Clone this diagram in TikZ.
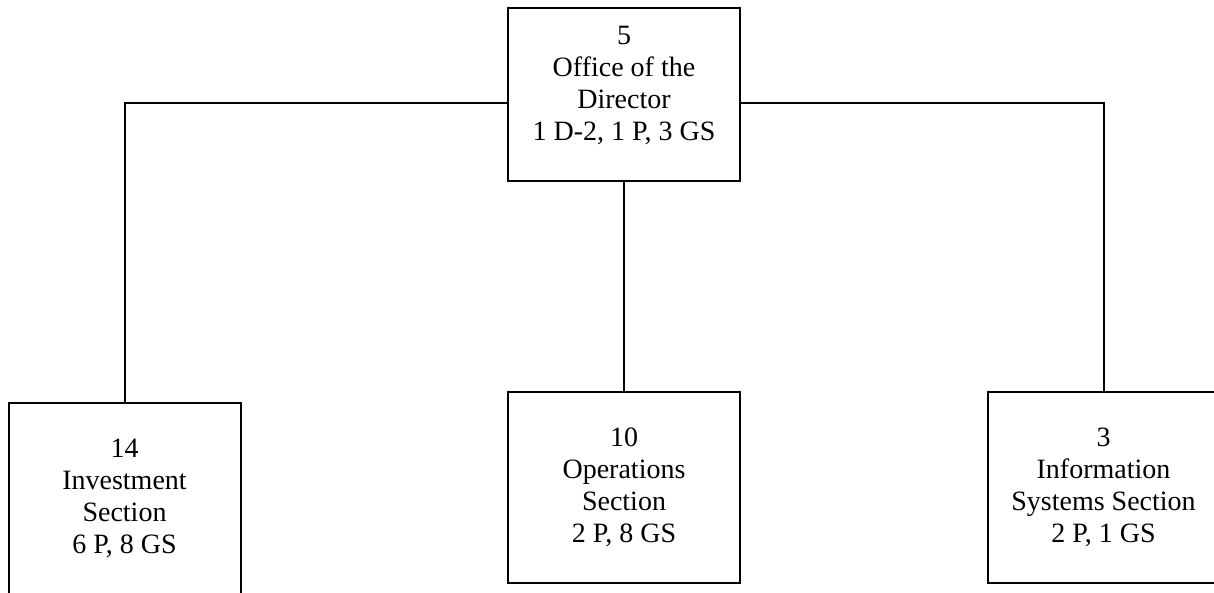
\documentclass[tikz,border=0pt]{standalone}
\usepackage{fontspec}
\setmainfont{Liberation Serif}
\begin{document}
\begin{tikzpicture}[x=0.5pt, y=-0.5pt,
    unitbox/.style={draw, line width=1pt, minimum width=116pt, inner sep=0pt},
    unittext/.style={align=center, font=\fontsize{14}{16}\selectfont},
    link/.style={line width=1pt}]
    \useasboundingbox (0,0) rectangle (1214,593);

    % Office of the Director (top)
    \node[unitbox, minimum height=86.5pt] (dir) at (624,94.5) {};
    \node[unittext] (dirtext) at (624,85) {5\\Office of the\\Director\\1 D-2, 1 P, 3 GS};

    % Investment Section (left)
    \node[unitbox, minimum height=95.5pt] (inv) at (124.5,498.5) {};
    \node[unittext] (invtext) at (inv.center) {14\\Investment\\Section\\6 P, 8 GS};

    % Operations Section (middle)
    \node[unitbox, minimum height=95.5pt] (ops) at (624,487.5) {};
    \node[unittext] (opstext) at (ops.center) {10\\Operations\\Section\\2 P, 8 GS};

    % Information Systems Section (right)
    \node[unitbox, minimum height=95.5pt] (info) at (1103.5,487.5) {};
    \node[unittext] (infotext) at (info.center) {3\\Information\\Systems Section\\2 P, 1 GS};

    % connectors
    \coordinate (bus) at (0,103);
    \draw[link] (dir.west |- bus) -| (inv.north);
    \draw[link] (dir.east |- bus) -| (info.north);
    \draw[link] (dir.south) -- (ops.north);
\end{tikzpicture}
\end{document}
